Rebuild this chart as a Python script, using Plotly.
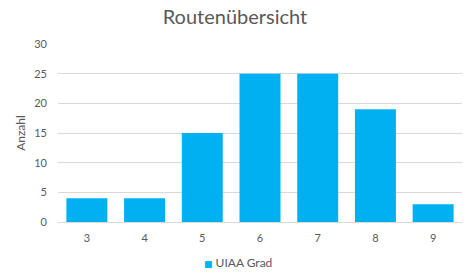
import plotly.graph_objects as go

grades = ["3", "4", "5", "6", "7", "8", "9"]
counts = [4, 4, 15, 25, 25, 19, 3]
y_ticks = [0, 5, 10, 15, 20, 25, 30]
series_name = "UIAA Grad"
bar_color = "#00b0f0"

fig = go.Figure()
fig.add_trace(go.Bar(x=grades, y=counts, name=series_name, marker_color=bar_color,
                     marker_line_width=0, showlegend=False))

font_fam = "Lato, 'DejaVu Sans', sans-serif"
fig.update_layout(
    width=470, height=275,
    margin=dict(l=58, r=8, t=44, b=53, autoexpand=False),
    paper_bgcolor="white", plot_bgcolor="white",
    bargap=0.29,
    title=dict(text="Routenübersicht", x=0.5, xanchor="center", y=0.94, yanchor="middle",
               font=dict(family=font_fam, size=20, color="#595959")),
    showlegend=False,
    font=dict(family=font_fam, color="#595959"),
    annotations=[dict(
        text=f'<span style="color:{bar_color};font-size:9px">■</span> {series_name}',
        xref="paper", yref="paper", x=0.445, y=-0.23, xanchor="center", yanchor="middle",
        showarrow=False, font=dict(family=font_fam, size=12, color="#595959"))],
)
fig.update_yaxes(range=[0, 30], tickvals=y_ticks, showgrid=True, gridcolor="#d9d9d9",
                 gridwidth=1, zeroline=False, showline=False,
                 tickfont=dict(size=11, color="#595959"), ticks="", ticklen=0,
                 ticklabelstandoff=10,
                 title=dict(text="Anzahl", font=dict(size=12, color="#595959"), standoff=6))
fig.update_xaxes(showline=True, linecolor="#d9d9d9", linewidth=1, ticks="",
                 ticklabelstandoff=6,
                 tickfont=dict(size=11, color="#595959"))

fig.write_html("out.html")
